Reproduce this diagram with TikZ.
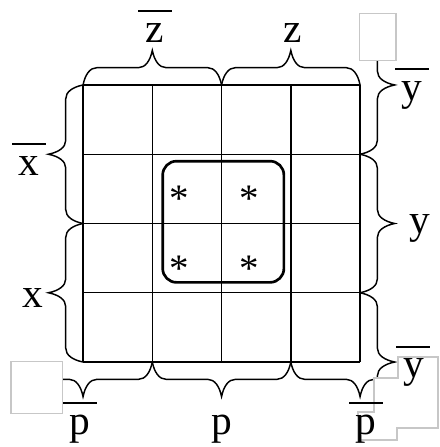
\documentclass[tikz,border=0pt]{standalone}
\usepackage{fontspec}
\setmainfont{Liberation Serif}
\usetikzlibrary{decorations.pathreplacing}

% a letter with a wide bar above it
\newcommand{\nbar}[1]{\begin{tabular}[b]{@{}c@{}}\rule{0.49cm}{0.8pt}\\[-7.5pt]#1\end{tabular}}

\begin{document}
\begin{tikzpicture}[
    cell/.style={draw=black, line width=0.6pt},
    brc/.style={decorate, decoration={brace, amplitude=0.2cm, transform={yscale=2.5}}, line width=0.6pt},
    var/.style={font=\fontsize{17}{20}\selectfont, inner sep=0pt, anchor=base},
    star/.style={font=\fontsize{16}{20}\selectfont, inner sep=0pt},
    group/.style={draw=black, line width=1.1pt, rounded corners=0.2cm},
    mask/.style={draw=black!22, fill=white, line width=0.5pt},
]
\useasboundingbox (-1.199,-1.227) rectangle (5.141,5.227);

% Grid
\foreach \i in {0,...,4} {
    \draw[cell] (\i,0) -- (\i,4);
    \draw[cell] (0,\i) -- (4,\i);
}

% Group of four
\draw[group] (1.15,1.15) rectangle (2.9,2.9);
\node[star] (s11) at (1.39,2.36) {*};
\node[star] (s12) at (2.40,2.36) {*};
\node[star] (s21) at (1.39,1.34) {*};
\node[star] (s22) at (2.40,1.34) {*};

% Braces
\draw[brc] (0,4) -- (2,4);
\draw[brc] (2,4) -- (4,4);
\draw[brc] (0,2) -- (0,4);
\draw[brc] (0,0) -- (0,2);
\draw[brc] (4,5) -- (4,3);
\draw[brc] (4,3) -- (4,1);
\draw[brc] (4,1) -- (4,-1);
\draw[brc] (1,0) -- (-1,0);
\draw[brc] (3,0) -- (1,0);
\draw[brc] (5,0) -- (3,0);

% Masks over the outer brace ends
\draw[mask] (3.99,4.35) rectangle (4.52,5.03);
\draw[mask] (-1.04,-0.74) rectangle (-0.30,0.01);
\draw[mask] (4.549,0.072) -- (5.126,0.072) -- (5.126,-0.953) -- (4.534,-0.953)
    -- (4.534,-1.126) -- (3.971,-1.126) -- (3.971,-0.722) -- (4.202,-0.722)
    -- (4.202,-0.231) -- (4.549,-0.231) -- cycle;

% Labels
\node[var] (zn) at (1.04,4.62) {\nbar{z}};
\node[var] (zp) at (3.02,4.62) {z};
\node[var] (xn) at (-0.78,2.70) {\nbar{x}};
\node[var] (xp) at (-0.73,0.79) {x};
\node[var] (yn1) at (4.75,3.78) {\nbar{y}};
\node[var] (yp) at (4.86,1.86) {y};
\node[var] (yn2) at (4.77,-0.23) {\nbar{y}};
\node[var] (pn1) at (-0.04,-1.04) {\nbar{p}};
\node[var] (pp) at (2.0,-1.04) {p};
\node[var] (pn2) at (4.09,-1.04) {\nbar{p}};

\end{tikzpicture}
\end{document}
